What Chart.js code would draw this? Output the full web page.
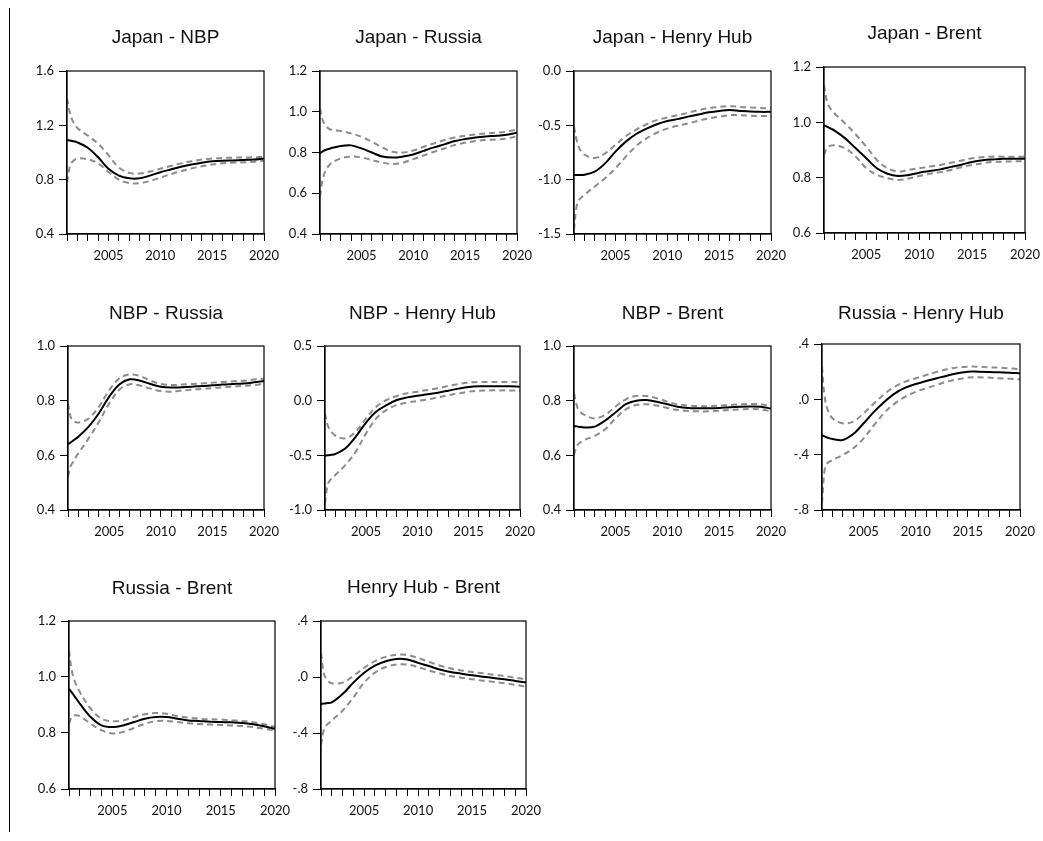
<!DOCTYPE html>
<html lang="en">
<head>
    <meta charset="UTF-8">
    <title>Rolling correlations</title>
    <script src="https://cdn.jsdelivr.net/npm/chart.js"></script>
    <style>
        body { margin: 0; background: #fff; }
        #page { position: relative; width: 1043px; height: 841px; overflow: hidden; }
        #page canvas { position: absolute; }
        #rule { position: absolute; left: 9px; top: 8px; width: 1px; height: 824px; background: #000; }
    </style>
</head>
<body>
    <div id="page"><div id="rule"></div></div>

    <script>
        // sample points along the time axis (years)
        const years = [2001, 2001.25, 2001.5, 2002, 2003, 2004, 2005, 2006, 2007, 2008, 2009, 2010,
                       2011, 2012, 2013, 2014, 2015, 2016, 2017, 2018, 2019, 2020];

        const titles = ['Japan - NBP', 'Japan - Russia', 'Japan - Henry Hub', 'Japan - Brent',
                        'NBP - Russia', 'NBP - Henry Hub', 'NBP - Brent', 'Russia - Henry Hub',
                        'Russia - Brent', 'Henry Hub - Brent'];

        // Japan - NBP
        const japanNbpMid = [1.09, 1.088, 1.085, 1.075, 1.035, 0.965, 0.88, 0.83, 0.81, 0.81, 0.83, 0.855, 0.875, 0.895, 0.912, 0.925, 0.935, 0.94, 0.942, 0.945, 0.948, 0.955];
        const japanNbpHi  = [1.40, 1.30, 1.24, 1.18, 1.125, 1.065, 0.98, 0.89, 0.85, 0.845, 0.86, 0.88, 0.90, 0.92, 0.935, 0.948, 0.955, 0.96, 0.962, 0.963, 0.965, 0.968];
        const japanNbpLo  = [0.78, 0.89, 0.93, 0.955, 0.95, 0.92, 0.857, 0.80, 0.775, 0.775, 0.79, 0.815, 0.84, 0.862, 0.882, 0.898, 0.912, 0.92, 0.925, 0.928, 0.932, 0.94];
        const japanNbpTicks = [0.4, 0.8, 1.2, 1.6];

        // Japan - Russia
        const japanRusMid = [0.796, 0.805, 0.812, 0.82, 0.832, 0.835, 0.82, 0.80, 0.78, 0.775, 0.78, 0.79, 0.808, 0.825, 0.84, 0.856, 0.866, 0.874, 0.879, 0.882, 0.887, 0.897];
        const japanRusHi  = [1.016, 0.96, 0.935, 0.913, 0.906, 0.894, 0.877, 0.853, 0.825, 0.804, 0.80, 0.81, 0.828, 0.845, 0.861, 0.874, 0.882, 0.889, 0.894, 0.897, 0.902, 0.913];
        const japanRusLo  = [0.584, 0.666, 0.706, 0.744, 0.771, 0.78, 0.776, 0.763, 0.75, 0.744, 0.75, 0.768, 0.785, 0.804, 0.82, 0.837, 0.848, 0.856, 0.861, 0.864, 0.868, 0.88];
        const japanRusTicks = [0.4, 0.6, 0.8, 1.0, 1.2];

        // Japan - Henry Hub
        const japanHhMid = [-0.956, -0.956, -0.956, -0.955, -0.926, -0.85, -0.742, -0.65, -0.58, -0.53, -0.49, -0.46, -0.443, -0.42, -0.40, -0.38, -0.367, -0.36, -0.367, -0.373, -0.376, -0.376];
        const japanHhHi  = [-0.51, -0.635, -0.71, -0.77, -0.80, -0.758, -0.68, -0.60, -0.54, -0.49, -0.452, -0.428, -0.406, -0.385, -0.36, -0.342, -0.33, -0.324, -0.33, -0.336, -0.34, -0.345];
        const japanHhLo  = [-1.46, -1.246, -1.185, -1.14, -1.063, -0.987, -0.895, -0.788, -0.69, -0.62, -0.568, -0.53, -0.504, -0.483, -0.458, -0.437, -0.42, -0.406, -0.406, -0.412, -0.415, -0.415];
        const japanHhTicks = [-1.5, -1.0, -0.5, 0.0];

        // Japan - Brent
        const japanBrentMid = [0.99, 0.985, 0.98, 0.97, 0.942, 0.906, 0.87, 0.834, 0.814, 0.806, 0.81, 0.818, 0.824, 0.83, 0.839, 0.847, 0.857, 0.863, 0.866, 0.868, 0.868, 0.868];
        const japanBrentHi  = [1.134, 1.08, 1.056, 1.032, 0.996, 0.956, 0.912, 0.864, 0.834, 0.822, 0.828, 0.834, 0.84, 0.846, 0.854, 0.862, 0.87, 0.874, 0.876, 0.876, 0.876, 0.876];
        const japanBrentLo  = [0.882, 0.906, 0.914, 0.917, 0.906, 0.876, 0.834, 0.81, 0.798, 0.792, 0.797, 0.806, 0.814, 0.82, 0.828, 0.838, 0.846, 0.852, 0.857, 0.858, 0.859, 0.859];
        const japanBrentTicks = [0.6, 0.8, 1.0, 1.2];

        // NBP - Russia
        const nbpRusMid = [0.641, 0.647, 0.654, 0.668, 0.705, 0.754, 0.815, 0.86, 0.878, 0.873, 0.861, 0.851, 0.848, 0.849, 0.851, 0.854, 0.856, 0.859, 0.861, 0.863, 0.867, 0.872];
        const nbpRusHi  = [0.79, 0.741, 0.726, 0.72, 0.735, 0.778, 0.839, 0.882, 0.896, 0.89, 0.873, 0.861, 0.857, 0.859, 0.861, 0.863, 0.866, 0.868, 0.871, 0.873, 0.877, 0.88];
        const nbpRusLo  = [0.522, 0.559, 0.577, 0.607, 0.662, 0.723, 0.79, 0.841, 0.86, 0.855, 0.844, 0.835, 0.833, 0.837, 0.84, 0.843, 0.846, 0.849, 0.851, 0.854, 0.857, 0.862];
        const nbpRusTicks = [0.4, 0.6, 0.8, 1.0];

        // NBP - Henry Hub
        const nbpHhMid = [-0.503, -0.5, -0.497, -0.488, -0.436, -0.329, -0.20, -0.10, -0.04, 0.006, 0.03, 0.046, 0.058, 0.073, 0.091, 0.11, 0.125, 0.131, 0.131, 0.131, 0.131, 0.128];
        const nbpHhHi  = [-0.116, -0.223, -0.268, -0.32, -0.345, -0.284, -0.162, -0.055, 0.006, 0.043, 0.067, 0.082, 0.098, 0.113, 0.134, 0.152, 0.165, 0.171, 0.171, 0.171, 0.171, 0.168];
        const nbpHhLo  = [-0.939, -0.771, -0.726, -0.68, -0.588, -0.466, -0.299, -0.162, -0.085, -0.04, -0.018, -0.003, 0.012, 0.03, 0.049, 0.067, 0.082, 0.091, 0.094, 0.094, 0.094, 0.091];
        const nbpHhTicks = [-1.0, -0.5, 0.0, 0.5];

        // NBP - Brent
        const nbpBrentMid = [0.707, 0.706, 0.704, 0.702, 0.705, 0.727, 0.757, 0.787, 0.80, 0.802, 0.796, 0.787, 0.778, 0.773, 0.772, 0.772, 0.773, 0.776, 0.778, 0.779, 0.778, 0.771];
        const nbpBrentHi  = [0.827, 0.784, 0.763, 0.748, 0.735, 0.748, 0.778, 0.805, 0.817, 0.817, 0.809, 0.796, 0.787, 0.782, 0.78, 0.78, 0.782, 0.784, 0.787, 0.788, 0.787, 0.778];
        const nbpBrentLo  = [0.601, 0.632, 0.644, 0.656, 0.671, 0.695, 0.735, 0.768, 0.784, 0.787, 0.782, 0.773, 0.766, 0.762, 0.761, 0.761, 0.763, 0.766, 0.768, 0.77, 0.768, 0.761];
        const nbpBrentTicks = [0.4, 0.6, 0.8, 1.0];

        // Russia - Henry Hub
        const rusHhMid = [-0.258, -0.268, -0.276, -0.287, -0.294, -0.251, -0.173, -0.089, -0.017, 0.043, 0.084, 0.111, 0.133, 0.152, 0.171, 0.188, 0.20, 0.20, 0.198, 0.195, 0.193, 0.188];
        const rusHhHi  = [0.236, 0.019, -0.065, -0.137, -0.173, -0.161, -0.101, -0.029, 0.039, 0.092, 0.128, 0.152, 0.176, 0.198, 0.217, 0.231, 0.236, 0.236, 0.231, 0.229, 0.224, 0.217];
        const rusHhLo  = [-0.752, -0.511, -0.463, -0.439, -0.402, -0.354, -0.282, -0.186, -0.096, -0.029, 0.019, 0.055, 0.08, 0.104, 0.128, 0.145, 0.157, 0.159, 0.157, 0.152, 0.149, 0.145];
        const rusHhTicks = [-0.8, -0.4, 0.0, 0.4];

        // Russia - Brent
        const rusBrentMid = [0.958, 0.945, 0.932, 0.905, 0.857, 0.827, 0.821, 0.827, 0.839, 0.851, 0.857, 0.857, 0.851, 0.845, 0.843, 0.84, 0.839, 0.838, 0.836, 0.831, 0.824, 0.815];
        const rusBrentHi  = [1.095, 1.024, 0.988, 0.946, 0.887, 0.851, 0.842, 0.845, 0.857, 0.867, 0.871, 0.869, 0.86, 0.855, 0.851, 0.849, 0.848, 0.845, 0.843, 0.838, 0.831, 0.821];
        const rusBrentLo  = [0.833, 0.857, 0.863, 0.86, 0.833, 0.81, 0.798, 0.804, 0.818, 0.833, 0.842, 0.843, 0.839, 0.835, 0.832, 0.83, 0.829, 0.827, 0.825, 0.821, 0.815, 0.81];
        const rusBrentTicks = [0.6, 0.8, 1.0, 1.2];

        // Henry Hub - Brent
        const hhBrentMid = [-0.193, -0.19, -0.187, -0.181, -0.122, -0.04, 0.031, 0.082, 0.113, 0.129, 0.125, 0.101, 0.078, 0.054, 0.035, 0.024, 0.012, 0.002, -0.007, -0.016, -0.028, -0.04];
        const hhBrentHi  = [0.172, 0.031, -0.016, -0.045, -0.04, 0.007, 0.066, 0.113, 0.144, 0.16, 0.158, 0.136, 0.108, 0.082, 0.061, 0.047, 0.035, 0.026, 0.016, 0.007, -0.005, -0.016];
        const hhBrentLo  = [-0.487, -0.381, -0.346, -0.311, -0.24, -0.146, -0.04, 0.031, 0.071, 0.089, 0.089, 0.071, 0.047, 0.026, 0.007, -0.005, -0.016, -0.026, -0.035, -0.045, -0.056, -0.068];
        const hhBrentTicks = [-0.8, -0.4, 0.0, 0.4];

        const series = [
            [japanNbpMid, japanNbpHi, japanNbpLo, japanNbpTicks, false],
            [japanRusMid, japanRusHi, japanRusLo, japanRusTicks, false],
            [japanHhMid, japanHhHi, japanHhLo, japanHhTicks, false],
            [japanBrentMid, japanBrentHi, japanBrentLo, japanBrentTicks, false],
            [nbpRusMid, nbpRusHi, nbpRusLo, nbpRusTicks, false],
            [nbpHhMid, nbpHhHi, nbpHhLo, nbpHhTicks, false],
            [nbpBrentMid, nbpBrentHi, nbpBrentLo, nbpBrentTicks, false],
            [rusHhMid, rusHhHi, rusHhLo, rusHhTicks, true],     // labels without leading zero
            [rusBrentMid, rusBrentHi, rusBrentLo, rusBrentTicks, false],
            [hhBrentMid, hhBrentHi, hhBrentLo, hhBrentTicks, true]
        ];

        // plot area placement: left, top, width, height, title centre y
        const boxes = [
            [67, 71, 197, 163, 38], [320, 71, 197, 163, 38], [574, 71, 197, 163, 38], [824, 67, 201, 166, 34],
            [68, 346, 196, 164, 314], [325, 346, 195, 164, 314], [574, 346, 197, 164, 314], [822, 344, 198, 166, 314],
            [69, 621, 206, 168, 589], [321, 621, 205, 168, 588]
        ];

        const Y_W = 45, X_H = 32, PAD_R = 26, TITLE_LH = 20;

        // frame round the plot area
        const frame = {
            id: 'frame',
            afterDatasetsDraw(chart) {
                const a = chart.chartArea, ctx = chart.ctx;
                ctx.save();
                ctx.strokeStyle = '#000';
                ctx.lineWidth = 1.2;
                ctx.strokeRect(a.left, a.top, a.right - a.left, a.bottom - a.top);
                ctx.restore();
            }
        };

        function pts(values) {
            return years.map((x, i) => ({ x: x, y: values[i] }));
        }

        function fmt(v, noLead) {
            let s = Math.abs(v) < 1e-9 ? '0.0' : v.toFixed(1);
            if (noLead) s = s.replace(/^(-?)0\./, '$1.');
            return s;
        }

        const page = document.getElementById('page');

        series.forEach(([mid, hi, lo, ticks, noLead], i) => {
            const [L, T, W, H, ty] = boxes[i];
            const top = ty - TITLE_LH / 2;
            const canvas = document.createElement('canvas');
            canvas.width = Y_W + W + PAD_R;
            canvas.height = (T - top) + H + X_H;
            canvas.style.left = (L - Y_W) + 'px';
            canvas.style.top = top + 'px';
            page.appendChild(canvas);

            const dashed = {
                borderColor: '#8c8c8c', borderWidth: 2, borderDash: [6, 4],
                pointRadius: 0, tension: 0.35
            };

            new Chart(canvas.getContext('2d'), {
                type: 'line',
                data: {
                    datasets: [
                        { data: pts(mid), borderColor: '#000', borderWidth: 2, pointRadius: 0, tension: 0.35 },
                        Object.assign({ data: pts(hi) }, dashed),
                        Object.assign({ data: pts(lo) }, dashed)
                    ]
                },
                options: {
                    responsive: false,
                    animation: false,
                    devicePixelRatio: 1,
                    layout: { padding: { left: 0, right: PAD_R, top: 0, bottom: 0 } },
                    plugins: {
                        legend: { display: false },
                        tooltip: { enabled: false },
                        title: {
                            display: true,
                            text: titles[i],
                            fullSize: false,
                            color: '#111',
                            font: { family: '"Liberation Sans", Arial, sans-serif', size: 19, weight: 'normal', lineHeight: TITLE_LH + 'px' },
                            padding: { top: 0, bottom: T - top - TITLE_LH }
                        }
                    },
                    scales: {
                        x: {
                            type: 'linear',
                            min: 2001,
                            max: 2020,
                            afterFit: s => { s.height = X_H; },
                            border: { color: '#000', width: 1.2 },
                            grid: { drawOnChartArea: false, drawTicks: true, tickLength: 7, color: '#000', tickWidth: 1 },
                            ticks: {
                                stepSize: 1,
                                autoSkip: false,
                                maxRotation: 0,
                                padding: 7,
                                color: '#111',
                                font: { family: 'Lato, sans-serif', size: 13 },
                                callback: v => (v % 5 === 0 ? String(v) : '')
                            }
                        },
                        y: {
                            min: ticks[0],
                            max: ticks[ticks.length - 1],
                            afterFit: s => { s.width = Y_W; },
                            afterBuildTicks: s => { s.ticks = ticks.map(v => ({ value: v })); },
                            border: { color: '#000', width: 1.2 },
                            grid: { drawOnChartArea: false, drawTicks: true, tickLength: 8, color: '#000', tickWidth: 1 },
                            ticks: {
                                padding: 5,
                                color: '#111',
                                font: { family: 'Lato, sans-serif', size: 13 },
                                callback: v => fmt(v, noLead)
                            }
                        }
                    }
                },
                plugins: [frame]
            });
        });
    </script>
</body>
</html>
